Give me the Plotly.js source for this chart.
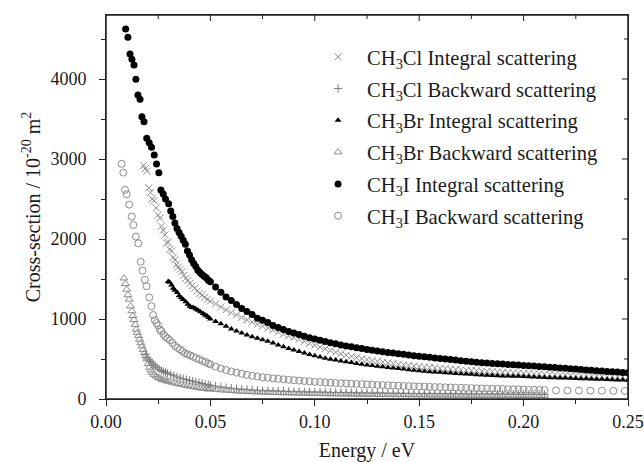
<!DOCTYPE html>
<html>
<head>
<meta charset="utf-8">
<script src="https://cdn.plot.ly/plotly-3.0.1.min.js"></script>
<style>html,body{margin:0;padding:0;background:#fff;}#chart{width:644px;height:462px;}</style>
</head>
<body>
<div id="chart"></div>
<script>
// ---- Data ----
const seriesNames = [
  'CH<sub>3</sub>Cl Integral scattering',
  'CH<sub>3</sub>Cl Backward scattering',
  'CH<sub>3</sub>Br Integral scattering',
  'CH<sub>3</sub>Br Backward scattering',
  'CH<sub>3</sub>I Integral scattering',
  'CH<sub>3</sub>I Backward scattering'
];

// common energy grid for the dense part of each curve (eV)
const energyTail = [
  0.0500,0.0525,0.0550,0.0575,0.0600,0.0625,0.0650,0.0675,0.0700,0.0725,
  0.0750,0.0775,0.0800,0.0825,0.0850,0.0875,0.0900,0.0925,0.0950,0.0975,
  0.1000,0.1025,0.1050,0.1075,0.1100,0.1125,0.1150,0.1175,0.1200,0.1225,
  0.1250,0.1275,0.1300,0.1325,0.1350,0.1375,0.1400,0.1425,0.1450,0.1475,
  0.1500,0.1525,0.1550,0.1575,0.1600,0.1625,0.1650,0.1675,0.1700,0.1725,
  0.1750,0.1775,0.1800,0.1825,0.1850,0.1875,0.1900,0.1925,0.1950,0.1975,
  0.2000,0.2025,0.2050,0.2075,0.2100,0.2125,0.2150,0.2175,0.2200,0.2225,
  0.2250,0.2275,0.2300,0.2325,0.2350,0.2375,0.2400,0.2425,0.2450,0.2475,
  0.2500
];

// positions of the inward frame ticks on the top and right edges
const topMajorTicks = [0.05, 0.10, 0.15, 0.20];
const topMinorTicks = [0.025, 0.075, 0.125, 0.175, 0.225];
const rightMajorTicks = [1000, 2000, 3000, 4000];
const rightMinorTicks = [500, 1500, 2500, 3500, 4500];

// CH3Cl integral
const clIntEarlyX = [0.0180,0.0188,0.0196,0.0205,0.0213,0.0221,0.0230,0.0240,0.0250,0.0258,0.0266,0.0274,0.0282,0.0290,0.0298,0.0306,0.0314,0.0322,0.0330,0.0338,0.0346,0.0355,0.0364,0.0373,0.0382,0.0392,0.0402,0.0413,0.0425,0.0437,0.0449,0.0461,0.0473,0.0485];
const clIntEarlyY = [2920,2880,2850,2640,2580,2500,2480,2390,2300,2260,2160,2110,2050,1950,1960,1870,1850,1770,1740,1680,1650,1620,1590,1545,1510,1480,1445,1415,1385,1350,1320,1300,1270,1245];
const clIntTailY = [
  1225,1190,1150,1115,1080,1050,1020,990,962,935,
  910,885,860,835,812,790,768,745,720,695,
  672,650,628,605,585,565,548,532,517,503,
  492,481,471,461,452,443,435,427,420,413,
  406,400,394,389,384,379,374,369,365,361,
  357,353,349,345,341,337,334,331,328,325,
  322,319,316,313,310,307,304,301,299,296,
  294,291,289,286,284,281,279,277,275,273,
  271];

// CH3Cl backward
const clBackEarlyX = [0.0190,0.0197,0.0205,0.0212,0.0220,0.0228,0.0236,0.0245,0.0255,0.0265,0.0275,0.0285,0.0295,0.0310,0.0325,0.0340,0.0355,0.0370,0.0385,0.0400,0.0415,0.0430,0.0445,0.0460,0.0475,0.0490];
const clBackEarlyY = [560,520,490,470,450,430,410,390,372,355,343,332,322,305,290,275,263,252,242,232,222,212,203,193,185,177];
const clBackTailY = [
  170,160,150,142,135,128,122,117,112,108,
  104,102,100,98,96,94,92,90,89,87,
  86,85,84,82,81,80,79,78,77,76,
  75,74,74,73,72,71,71,70,69,68,
  68,67,67,66,66,65,65,64,64,63,
  63,62,62,61,61,60,60,60,59,59,
  58,58,58,57,57];

// CH3Br integral
const brIntEarlyX = [0.0298,0.0305,0.0314,0.0322,0.0330,0.0341,0.0350,0.0360,0.0370,0.0382,0.0392,0.0402,0.0412,0.0421,0.0431,0.0441,0.0452,0.0465,0.0475,0.0484,0.0492];
const brIntEarlyY = [1470,1460,1425,1385,1360,1330,1290,1265,1245,1215,1185,1160,1145,1140,1125,1110,1090,1070,1050,1037,1020];
const brIntTailY = [
  1000,968,940,910,875,850,826,800,778,760,
  742,722,700,676,652,632,612,593,575,556,
  540,526,510,497,487,476,466,455,445,435,
  426,418,410,402,395,388,381,374,367,360,
  354,348,342,337,333,328,324,320,316,312,
  308,304,300,297,294,291,289,287,285,283,
  281,278,275,272,270,267,265,263,261,259,
  257,254,252,250,248,246,243,241,239,237,
  235];

// CH3Br backward
const brBackEarlyX = [0.0086,0.0093,0.0099,0.0105,0.0111,0.0118,0.0124,0.0129,0.0134,0.0140,0.0145,0.0150,0.0156,0.0161,0.0167,0.0172,0.0178,0.0184,0.0190,0.0196,0.0202,0.0208,0.0215,0.0222,0.0230,0.0240,0.0250,0.0260,0.0270,0.0280,0.0290,0.0300,0.0315,0.0330,0.0345,0.0360,0.0375,0.0390,0.0405,0.0420,0.0435,0.0450,0.0465,0.0480,0.0490];
const brBackEarlyY = [1510,1440,1370,1300,1245,1160,1100,1040,990,930,870,830,790,745,700,660,615,575,535,500,440,395,360,330,305,285,268,255,243,234,226,218,208,198,189,181,174,165,158,151,144,137,131,127,123];
const brBackTailY = [
  125,118,112,107,102,98,94,91,88,85,
  83,81,79,77,75,74,72,71,69,68,
  66,65,64,63,62,61,60,59,58,57,
  57,56,55,54,54,53,52,52,51,51,
  50,50,49,49,48,48,47,47,46,46,
  45,45,44,44,44,43,43,43,42,42,
  42,42,41,41,41];

// CH3I integral
const iIntEarlyX = [0.0094,0.0105,0.0115,0.0124,0.0134,0.0143,0.0153,0.0163,0.0172,0.0182,0.0195,0.0207,0.0218,0.0231,0.0242,0.0253,0.0263,0.0274,0.0285,0.0300,0.0310,0.0320,0.0330,0.0340,0.0350,0.0360,0.0370,0.0380,0.0390,0.0400,0.0410,0.0420,0.0430,0.0440,0.0450,0.0460,0.0470,0.0480,0.0490];
const iIntEarlyY = [4625,4521,4312,4246,4175,3996,3800,3746,3529,3467,3258,3204,3146,3050,2938,2829,2612,2562,2500,2440,2350,2280,2200,2130,2080,2035,1985,1935,1850,1800,1740,1695,1655,1610,1580,1555,1535,1515,1485];
const iIntTailY = [
  1466,1400,1335,1275,1230,1180,1130,1095,1055,1010,
  985,955,920,895,870,845,825,805,785,765,
  750,735,718,704,690,676,664,652,640,630,
  620,610,600,590,582,574,566,558,550,542,
  535,528,521,514,507,500,493,486,479,472,
  466,460,454,449,444,440,436,432,428,424,
  420,416,411,406,402,398,393,388,384,378,
  374,369,364,359,354,349,345,340,336,332,
  328];

// CH3I backward
const iBackEarlyX = [0.0075,0.0083,0.0091,0.0099,0.0111,0.0123,0.0131,0.0143,0.0155,0.0166,0.0175,0.0186,0.0194,0.0207,0.0218,0.0226,0.0234,0.0242,0.0250,0.0258,0.0266,0.0275,0.0284,0.0294,0.0306,0.0318,0.0330,0.0342,0.0354,0.0366,0.0378,0.0390,0.0403,0.0417,0.0432,0.0447,0.0462,0.0477,0.0490];
const iBackEarlyY = [2940,2830,2615,2560,2430,2280,2175,2030,1945,1715,1605,1490,1410,1270,1160,1050,985,950,920,865,850,810,780,758,735,700,665,640,620,595,572,560,545,528,510,495,475,462,445];
const iBackTailY = [
  432,405,382,362,345,330,316,302,291,281,
  272,265,258,252,246,240,235,230,225,220,
  215,211,207,204,200,197,194,191,188,185,
  182,179,176,174,171,168,166,164,161,159,
  157,155,152,150,148,146,144,142,140,138,
  136,134,132,130,128,127,125,123,121,120,
  118,116,114,113,111];
const iBackLateX = [0.2155,0.2210,0.2265,0.2320,0.2375,0.2430,0.2485];
const iBackLateY = [108,107,105,104,103,101,100];

// ---- assemble traces ----
function joinX(early, tailLen, late) {
  return early.concat(energyTail.slice(0, tailLen), late || []);
}
const GRAY = '#8c8c8c';
const FONT = 'Liberation Serif';
const AXC = '#222';

const specs = [
  {x: joinX(clIntEarlyX, clIntTailY.length), y: clIntEarlyY.concat(clIntTailY),
   marker: {symbol: 'x-thin-open', size: 7, color: GRAY, line: {color: GRAY, width: 1}}},
  {x: joinX(clBackEarlyX, clBackTailY.length), y: clBackEarlyY.concat(clBackTailY),
   marker: {symbol: 'cross-thin-open', size: 6, color: '#7a7a7a', line: {color: '#7a7a7a', width: 1}}},
  {x: joinX(brIntEarlyX, brIntTailY.length), y: brIntEarlyY.concat(brIntTailY),
   marker: {symbol: 'triangle-up', size: 6, color: '#000', line: {width: 0}}},
  {x: joinX(brBackEarlyX, brBackTailY.length), y: brBackEarlyY.concat(brBackTailY),
   marker: {symbol: 'triangle-up-open', size: 7, color: GRAY, line: {color: GRAY, width: 1}}},
  {x: joinX(iIntEarlyX, iIntTailY.length), y: iIntEarlyY.concat(iIntTailY),
   marker: {symbol: 'circle', size: 7, color: '#000', line: {width: 0}}},
  {x: joinX(iBackEarlyX, iBackTailY.length, iBackLateX), y: iBackEarlyY.concat(iBackTailY, iBackLateY),
   marker: {symbol: 'circle-open', size: 7, color: GRAY, line: {color: GRAY, width: 1}}}
];

const traces = specs.map((s, i) => ({
  type: 'scatter', mode: 'markers', name: seriesNames[i],
  legendgroup: 'g' + i, x: s.x, y: s.y, marker: s.marker, cliponaxis: true
}));

// frame rectangle and inward ticks on the top / right edges, placed through the axes
const M = {l: 106, r: 16, t: 15, b: 63};
const plotW = 644 - M.l - M.r, plotH = 462 - M.t - M.b;
const shapes = [
  {type: 'rect', xref: 'paper', yref: 'paper', x0: 0, x1: 1, y0: 0, y1: 1,
   line: {color: AXC, width: 1.5}, fillcolor: 'rgba(0,0,0,0)', layer: 'above'}
];
function topTick(v, len) {
  return {type: 'line', xref: 'x', yref: 'paper', x0: v, x1: v, y0: 1, y1: 1 - len / plotH, line: {color: AXC, width: 1}, layer: 'above'};
}
function rightTick(v, len) {
  return {type: 'line', xref: 'paper', yref: 'y', x0: 1, x1: 1 - len / plotW, y0: v, y1: v, line: {color: AXC, width: 1}, layer: 'above'};
}
topMajorTicks.forEach(v => shapes.push(topTick(v, 6)));
topMinorTicks.forEach(v => shapes.push(topTick(v, 4)));
rightMajorTicks.forEach(v => shapes.push(rightTick(v, 6)));
rightMinorTicks.forEach(v => shapes.push(rightTick(v, 4)));

const tickFont = {family: FONT, size: 18, color: '#1a1a1a'};
const layout = {
  width: 644, height: 462,
  margin: M,
  paper_bgcolor: '#fff', plot_bgcolor: '#fff',
  showlegend: true,
  font: {family: FONT, color: '#1a1a1a'},
  xaxis: {
    range: [0, 0.25], dtick: 0.05, tick0: 0, tickformat: '.2f',
    ticks: 'outside', ticklen: 6, tickwidth: 1, tickcolor: AXC,
    minor: {ticks: 'outside', dtick: 0.025, ticklen: 4, tickcolor: AXC},
    showline: true, mirror: true, linecolor: AXC, linewidth: 1, showgrid: false, zeroline: false,
    tickfont: tickFont,
    title: {text: 'Energy / eV', font: {family: FONT, size: 20, color: '#1a1a1a'}, standoff: 14}
  },
  yaxis: {
    range: [0, 4800], dtick: 1000, tick0: 0,
    ticks: 'outside', ticklen: 6, tickwidth: 1, tickcolor: AXC,
    minor: {ticks: 'outside', dtick: 500, ticklen: 4, tickcolor: AXC},
    showline: true, mirror: true, linecolor: AXC, linewidth: 1, showgrid: false, zeroline: false,
    tickfont: tickFont, ticklabelstandoff: 9,
    title: {text: 'Cross-section / 10<sup>-20</sup> m<sup>2</sup>', font: {family: FONT, size: 20, color: '#1a1a1a'}, standoff: 4}
  },
  shapes: shapes,
  legend: {
    x: 0.389, y: 0.943, xanchor: 'left', yanchor: 'top',
    bgcolor: 'rgba(0,0,0,0)', borderwidth: 0,
    font: {family: FONT, size: 20.6, color: '#1a1a1a'},
    itemwidth: 48, tracegroupgap: 2, traceorder: 'grouped'
  }
};

Plotly.newPlot('chart', traces, layout, {staticPlot: true, displayModeBar: false});
</script>
</body>
</html>
